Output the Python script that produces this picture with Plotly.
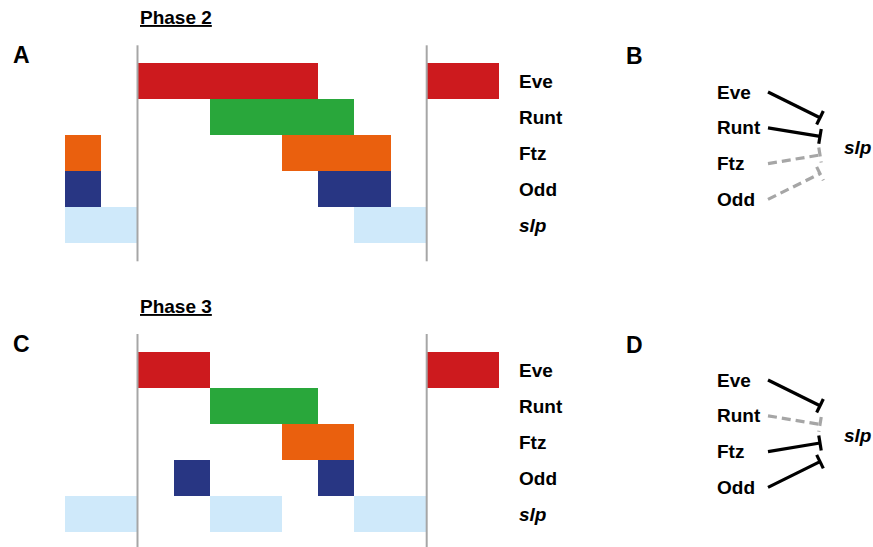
import plotly.graph_objects as go

# ---------------- data ----------------
genes = ["Eve", "Runt", "Ftz", "Odd", "slp"]
gene_colors = ["#CD1A1E", "#29A73B", "#EA600E", "#283683", "#CFE9FA"]

# Phase 2 expression domains (cell units, start / end)
phase2_gene = ["Eve", "Eve", "Runt", "Ftz", "Ftz", "Odd", "Odd", "slp", "slp"]
phase2_start = [0, 8, 2, -2, 4, -2, 5, -2, 6]
phase2_end = [5, 10, 6, -1, 7, -1, 7, 0, 8]

# Phase 3 expression domains
phase3_gene = ["Eve", "Eve", "Runt", "Ftz", "Odd", "Odd", "slp", "slp", "slp"]
phase3_start = [0, 8, 2, 4, 1, 5, -2, 2, 6]
phase3_end = [2, 10, 5, 6, 2, 6, 0, 4, 8]

# parasegment boundaries
boundaries = [0, 8]

# regulatory network (repression of slp)
regulators = ["Eve", "Runt", "Ftz", "Odd"]
target = "slp"
phase2_active = [True, True, False, False]
phase3_active = [True, False, True, True]

# ---------------- layout geometry ----------------
W, H = 873, 547
X0_PX, UNIT_PX = 137.5, 36.15
ROW_PX = 36.0
ROW0_TOP, ROW0_BOT = 81.3, 370.0
FONT = "Liberation Sans, Arial, sans-serif"
GRAY = "#A6A6A6"

fig = go.Figure()

def add_phase(gnames, starts, ends, yref):
    for g, col in zip(genes, gene_colors):
        idx = [i for i, n in enumerate(gnames) if n == g]
        if not idx:
            continue
        row = genes.index(g)
        fig.add_trace(go.Bar(
            orientation="h",
            y=[row] * len(idx),
            base=[starts[i] for i in idx],
            x=[ends[i] - starts[i] for i in idx],
            width=1.0,
            marker=dict(color=col, line=dict(width=0)),
            xaxis="x", yaxis=yref, showlegend=False, hoverinfo="skip",
        ))
    for b in boundaries:
        fig.add_shape(type="line", x0=b, x1=b, y0=-1, y1=5,
                      xref="x", yref=yref, line=dict(color=GRAY, width=2),
                      layer="above")
    for r, g in enumerate(genes):
        txt = f"<b><i>{g}</i></b>" if g == target else f"<b>{g}</b>"
        fig.add_annotation(x=10.5, y=r, xref="x", yref=yref, text=txt,
                           showarrow=False, xanchor="left", yanchor="middle",
                           font=dict(family=FONT, size=19, color="black"))

add_phase(phase2_gene, phase2_start, phase2_end, "y")
add_phase(phase3_gene, phase3_start, phase3_end, "y2")

# ---------------- networks (pixel axes x3/y3) ----------------
def add_network(active, label_y0):
    sp = 35.8
    lx, sx, ex = 715, 768, 820
    ty = label_y0 + 1.5 * sp
    for i, (reg, act) in enumerate(zip(regulators, active)):
        ly = label_y0 + i * sp
        fig.add_annotation(x=lx, y=ly, xref="x3", yref="y3", text=f"<b>{reg}</b>",
                           showarrow=False, xanchor="left", yanchor="middle",
                           font=dict(family=FONT, size=19, color="black"))
        ey = ty + 0.52 * (ly - ty)
        dx, dy = ex - sx, ey - ly
        ln = (dx * dx + dy * dy) ** 0.5
        px, py = -dy / ln * 7.5, dx / ln * 7.5
        color = "black" if act else GRAY
        dash = "solid" if act else "9px,5px"
        fig.add_trace(go.Scatter(
            x=[sx, ex, None, ex - px, ex + px],
            y=[ly, ey, None, ey - py, ey + py],
            mode="lines", line=dict(color=color, width=3.2, dash=dash),
            xaxis="x3", yaxis="y3", showlegend=False, hoverinfo="skip"))
    fig.add_annotation(x=842, y=ty + 1.5, xref="x3", yref="y3",
                       text=f"<b><i>{target}</i></b>", showarrow=False,
                       xanchor="left", yanchor="middle",
                       font=dict(family=FONT, size=19, color="black"))

add_network(phase2_active, 92)
add_network(phase3_active, 380)

# panel letters and titles
for letter, x, y in [("A", 21, 55), ("B", 634, 56), ("C", 21, 344), ("D", 634, 345)]:
    fig.add_annotation(x=x, y=y, xref="x3", yref="y3", text=f"<b>{letter}</b>",
                       showarrow=False, xanchor="center", yanchor="middle",
                       font=dict(family=FONT, size=23, color="black"))
for title, y in [("Phase 2", 17.5), ("Phase 3", 306.5)]:
    fig.add_annotation(x=176, y=y, xref="x3", yref="y3",
                       text=f"<b><u>{title}</u></b>", showarrow=False,
                       xanchor="center", yanchor="middle",
                       font=dict(family=FONT, size=19, color="black"))

hidden = dict(visible=False, showgrid=False, zeroline=False, fixedrange=True)
fig.update_layout(
    width=W, height=H, margin=dict(l=0, r=0, t=0, b=0),
    paper_bgcolor="white", plot_bgcolor="white", barmode="overlay",
    bargap=0,
    xaxis=dict(domain=[0, 1], range=[-X0_PX / UNIT_PX, (W - X0_PX) / UNIT_PX], **hidden),
    yaxis=dict(domain=[0, 1], range=[(H - ROW0_TOP) / ROW_PX, -ROW0_TOP / ROW_PX], **hidden),
    yaxis2=dict(domain=[0, 1], overlaying="y", anchor="x",
                range=[(H - ROW0_BOT) / ROW_PX, -ROW0_BOT / ROW_PX], **hidden),
    xaxis3=dict(domain=[0, 1], overlaying="x", anchor="y3", range=[0, W], **hidden),
    yaxis3=dict(domain=[0, 1], overlaying="y", anchor="x3", range=[H, 0], **hidden),
)

fig.write_html("out.html", config={"displayModeBar": False},
               post_script="document.body.style.margin='0';document.body.style.overflow='hidden';")
